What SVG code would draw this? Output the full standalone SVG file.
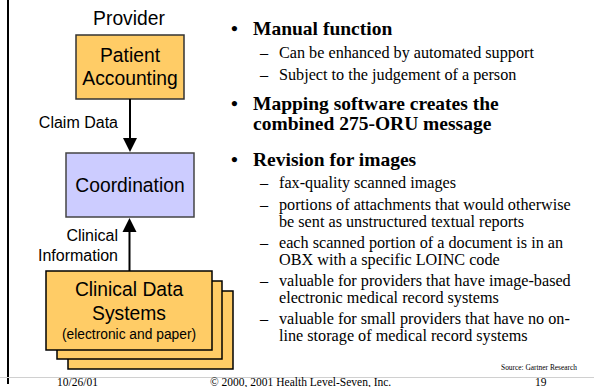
<svg xmlns="http://www.w3.org/2000/svg" width="594" height="387" viewBox="0 0 594 387">
<style>
.sans{font-family:"Liberation Sans",Arial,sans-serif;fill:#000}
.serif{font-family:"Liberation Serif","Times New Roman",serif;fill:#000}
.lbl{font-size:19.3px;text-anchor:middle}
.edge{font-size:16px;text-anchor:end}
.head{font-size:19.5px;font-weight:bold}
.sub{font-size:16.2px}
.foot{font-size:11.5px}
.orange{fill:#FFCC66;stroke:#333;stroke-width:1.5}
.stack{fill:#FFCC66;stroke:#000;stroke-width:1.5}
.blue{fill:#CCCCFF;stroke:#444;stroke-width:1.5}
.conn{stroke:#000;stroke-width:2;fill:none}
</style>
<rect width="594" height="387" fill="#fff"/>
<line x1="8" y1="0" x2="8" y2="384" stroke="#000" stroke-width="2"/>
<line x1="0" y1="377.5" x2="594" y2="377.5" stroke="#d0d0d0" stroke-width="1"/>

<text class="sans lbl" x="129" y="25">Provider</text>

<g id="patient-accounting">
<rect class="orange" x="76" y="35" width="108" height="64"/>
<text class="sans lbl" x="130" y="62">Patient</text>
<text class="sans lbl" x="130" y="85">Accounting</text>
</g>

<g id="coordination">
<rect class="blue" x="66" y="153" width="128" height="64"/>
<text class="sans lbl" x="130" y="192">Coordination</text>
</g>

<g id="clinical-data-systems">
<rect class="stack" x="68" y="291" width="165" height="78"/>
<rect class="stack" x="57" y="281" width="165" height="78"/>
<rect class="stack" x="46" y="271" width="166" height="79"/>
<text class="sans lbl" x="129" y="296">Clinical Data</text>
<text class="sans lbl" x="129" y="320">Systems</text>
<text class="sans" x="129" y="339" font-size="13.8" text-anchor="middle">(electronic and paper)</text>
</g>

<g id="connectors">
<line class="conn" x1="130" y1="99" x2="130" y2="140"/>
<polygon points="123,138 137,138 130,152" fill="#000"/>
<text class="sans edge" x="118" y="128">Claim Data</text>
<line class="conn" x1="129.5" y1="271" x2="129.5" y2="230"/>
<polygon points="122.5,232 136.5,232 129.5,218" fill="#000"/>
<text class="sans edge" x="118" y="241">Clinical</text>
<text class="sans edge" x="118" y="261">Information</text>
</g>

<g id="bullets" class="serif">
<text class="head" x="231" y="35">•</text>
<text class="head" x="253" y="35">Manual function</text>
<text class="sub" x="260" y="58">–</text>
<text class="sub" x="279" y="58">Can be enhanced by automated support</text>
<text class="sub" x="260" y="80">–</text>
<text class="sub" x="279" y="80">Subject to the judgement of a person</text>

<text class="head" x="231" y="110">•</text>
<text class="head" x="253" y="110">Mapping software creates the</text>
<text class="head" x="253" y="130">combined 275-ORU message</text>

<text class="head" x="231" y="166">•</text>
<text class="head" x="253" y="166">Revision for images</text>
<text class="sub" x="260" y="188">–</text>
<text class="sub" x="279" y="188">fax-quality scanned images</text>
<text class="sub" x="260" y="210">–</text>
<text class="sub" x="279" y="210">portions of attachments that would otherwise</text>
<text class="sub" x="279" y="227">be sent as unstructured textual reports</text>
<text class="sub" x="260" y="248">–</text>
<text class="sub" x="279" y="248">each scanned portion of a document is in an</text>
<text class="sub" x="279" y="265">OBX with a specific LOINC code</text>
<text class="sub" x="260" y="286">–</text>
<text class="sub" x="279" y="286">valuable for providers that have image-based</text>
<text class="sub" x="279" y="303">electronic medical record systems</text>
<text class="sub" x="260" y="324">–</text>
<text class="sub" x="279" y="324">valuable for small providers that have no on-</text>
<text class="sub" x="279" y="341">line storage of medical record systems</text>
</g>

<text class="serif" x="577" y="370" font-size="7.4" text-anchor="end">Source: Gartner Research</text>
<text class="serif foot" x="57" y="386">10/26/01</text>
<text class="serif foot" x="210" y="386">© 2000, 2001 Health Level-Seven, Inc.</text>
<text class="serif foot" x="535" y="386">19</text>
</svg>
